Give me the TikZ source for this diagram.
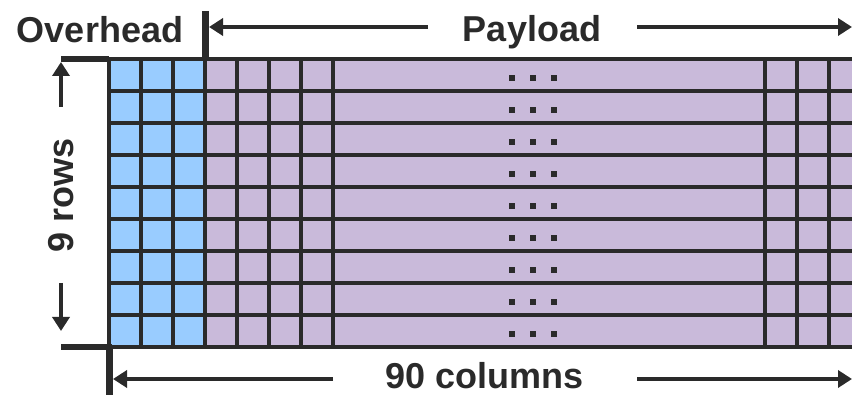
\documentclass[tikz,border=0pt]{standalone}
\usepackage{fontspec}
\setmainfont{Liberation Sans}
\usetikzlibrary{arrows.meta}
\definecolor{ink}{RGB}{42,42,42}
\definecolor{ohblue}{RGB}{153,204,255}
\definecolor{plpurple}{RGB}{201,186,218}
\tikzset{
  lbl/.style={text=ink,font=\fontsize{36}{36}\selectfont\bfseries,inner sep=0pt,anchor=base},
  gridline/.style={draw=ink,line width=4pt},
  bar/.style={draw=ink,line width=7pt},
  dimarrow/.style={draw=ink,line width=3.5pt,-{Triangle[length=14pt,width=17pt]}},
  dimline/.style={draw=ink,line width=3.5pt},
  dotsq/.style={fill=ink}
}
\begin{document}
\begin{tikzpicture}[x=1pt,y=-1pt]
\useasboundingbox (0,0) rectangle (852,395);
\begin{scope}
\clip (0,0) rectangle (852,395);
\fill[ohblue] (109,59) rectangle (205,347);
\fill[plpurple] (205,59) rectangle (870,347);
\foreach \r in {0,...,9} \draw[gridline] (107,59+32*\r) -- (870,59+32*\r);
\foreach \c in {109,141,173,205,237,269,301,333,765,797,829,861} \draw[gridline] (\c,59) -- (\c,347);
\foreach \r in {0,...,8} {
  \foreach \dx in {512,533,554} \fill[dotsq] (\dx-3,78+32*\r-3) rectangle (\dx+3,78+32*\r+3);
}
\end{scope}
% labels
\node[lbl] (overhead) at (100,42.5) {Overhead};
\node[lbl] (payload) at (532,42) {Payload};
\node[lbl] (columns) at (485,388.5) {90 columns};
\node[lbl,rotate=90] (rows) at (73,195) {9 rows};
% overhead / payload bar
\coordinate (obtop) at (205.5,11);
\coordinate (obbot) at (205.5,59);
\draw[bar] (obtop) -- (obbot);
\coordinate (plL) at (428,27);
\coordinate (plLtip) at (209,27);
\coordinate (plR) at (637,27);
\coordinate (plRtip) at (852,27);
\draw[dimarrow] (plL) -- (plLtip);
\draw[dimarrow] (plR) -- (plRtip);
% rows bars
\coordinate (tbL) at (61,59.5);
\coordinate (tbR) at (109,59.5);
\draw[draw=ink,line width=6pt] (tbL) -- (tbR);
\coordinate (bbL) at (61,347);
\coordinate (bbR) at (112,347);
\draw[draw=ink,line width=6pt] (bbL) -- (bbR);
\coordinate (upS) at (61,107);
\coordinate (upT) at (61,62);
\draw[dimarrow] (upS) -- (upT);
\coordinate (dnS) at (61,283);
\coordinate (dnT) at (61,331);
\draw[dimarrow] (dnS) -- (dnT);
% columns bar
\coordinate (cbT) at (109,347);
\coordinate (cbB) at (109,395);
\draw[bar] (cbT) -- (cbB);
\coordinate (coL) at (333,379);
\coordinate (coLtip) at (113,379);
\coordinate (coR) at (637,379);
\coordinate (coRtip) at (852,379);
\draw[dimarrow] (coL) -- (coLtip);
\draw[dimarrow] (coR) -- (coRtip);
\end{tikzpicture}
\end{document}
